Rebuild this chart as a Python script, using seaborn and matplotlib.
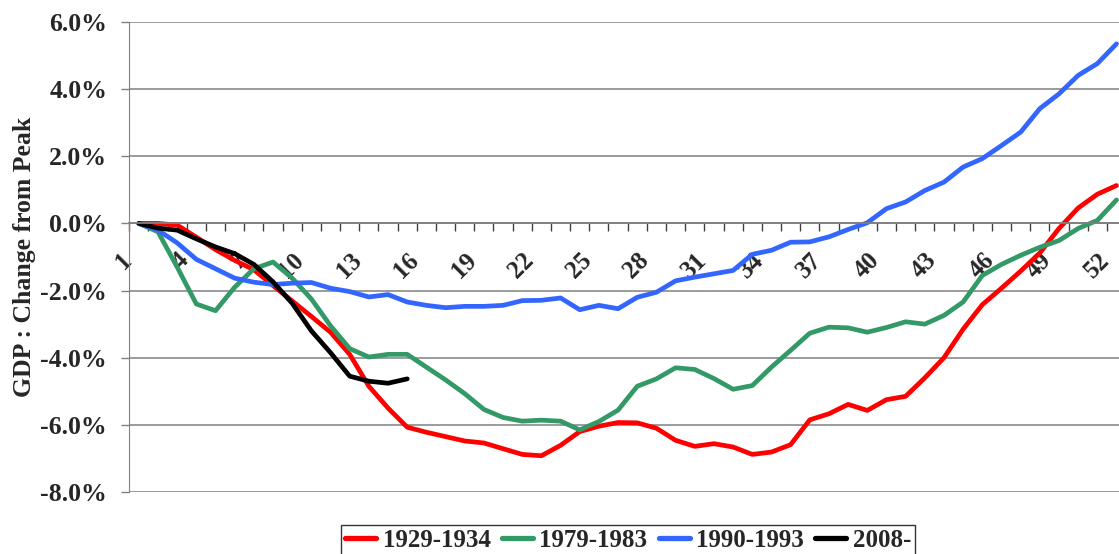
import numpy as np
import pandas as pd
import seaborn as sns
import matplotlib.pyplot as plt
import matplotlib.transforms as mtransforms
from matplotlib.ticker import FixedLocator, FuncFormatter

# quarters since the peak
periods = list(range(1, 53))

gdp_1929 = [0.0, 0.0, -0.05, -0.41, -0.78, -1.10, -1.38, -1.85, -2.31, -2.77,
            -3.24, -3.9, -4.85, -5.5, -6.07, -6.22, -6.35, -6.48, -6.54, -6.71,
            -6.88, -6.92, -6.61, -6.2, -6.04, -5.93, -5.94, -6.1, -6.46, -6.64,
            -6.56, -6.66, -6.88, -6.81, -6.59, -5.85, -5.67, -5.39, -5.57, -5.25,
            -5.15, -4.6, -4.0, -3.15, -2.42, -1.93, -1.42, -0.88, -0.15, 0.46,
            0.87, 1.13]
gdp_1979 = [0.0, -0.25, -1.3, -2.4, -2.6, -1.9, -1.35, -1.15, -1.63, -2.25,
            -3.05, -3.73, -3.98, -3.9, -3.9, -4.28, -4.66, -5.07, -5.54, -5.78,
            -5.89, -5.86, -5.89, -6.15, -5.9, -5.56, -4.85, -4.63, -4.3, -4.35,
            -4.62, -4.94, -4.83, -4.28, -3.78, -3.27, -3.09, -3.11, -3.24, -3.1,
            -2.93, -3.0, -2.74, -2.34, -1.55, -1.22, -0.95, -0.71, -0.51, -0.15,
            0.09, 0.7]
gdp_1990 = [0.0, -0.2, -0.58, -1.07, -1.35, -1.63, -1.75, -1.82, -1.78, -1.76,
            -1.93, -2.03, -2.19, -2.12, -2.34, -2.44, -2.51, -2.47, -2.47, -2.44,
            -2.3, -2.29, -2.22, -2.57, -2.44, -2.54, -2.2, -2.05, -1.71, -1.6,
            -1.5, -1.4, -0.92, -0.8, -0.56, -0.55, -0.4, -0.18, 0.02, 0.44,
            0.64, 0.98, 1.23, 1.68, 1.93, 2.32, 2.72, 3.42, 3.86, 4.41,
            4.76, 5.35]
gdp_2008 = [0.0, -0.14, -0.2, -0.46, -0.7, -0.9, -1.22, -1.74, -2.38, -3.2,
            -3.85, -4.55, -4.7, -4.76, -4.63]

series_names = ['1929-1934', '1979-1983', '1990-1993', '2008-']
series_values = [gdp_1929, gdp_1979, gdp_1990, gdp_2008]
series_colors = ['#FF0000', '#339966', '#3366FF', '#000000']

y_ticks = [-8, -6, -4, -2, 0, 2, 4, 6]
x_label_ticks = list(range(1, 53, 3))

frames = []
for name, vals in zip(series_names, series_values):
    frames.append(pd.DataFrame({'period': periods[:len(vals)], 'change': vals, 'series': name}))
df = pd.concat(frames, ignore_index=True)

sns.set_style('white')
plt.rcParams['font.family'] = ['Liberation Serif', 'DejaVu Serif']
plt.rcParams['font.weight'] = 'bold'

fig = plt.figure(figsize=(11.19, 5.54), dpi=100)
ax = fig.add_axes([0.1155, 0.1119, 0.8845, 0.8484])

sns.lineplot(data=df, x='period', y='change', hue='series', hue_order=series_names,
             palette=dict(zip(series_names, series_colors)), lw=3.4, ax=ax, sort=False)

ax.set_xlim(0.5, 52.13)
ax.set_ylim(-8, 6)

grid_col = '#808080'
ax.set_yticks(y_ticks)
ax.yaxis.set_major_formatter(FuncFormatter(lambda v, p: '{:.1f}%'.format(v)))
ax.yaxis.grid(True, color=grid_col, lw=1.1)
ax.xaxis.grid(False)
for s in ['top', 'right']:
    ax.spines[s].set_visible(False)
ax.spines['left'].set_color(grid_col)
ax.spines['bottom'].set_color(grid_col)
ax.spines['bottom'].set_linewidth(1.3)
ax.spines['bottom'].set_position(('data', 0))

ax.tick_params(axis='y', direction='out', length=6, width=1, color=grid_col,
               pad=10, labelsize=18.5, left=True)

# category axis: tick marks between categories, labels every 3rd
ax.xaxis.set_major_locator(FixedLocator(x_label_ticks))
ax.xaxis.set_minor_locator(FixedLocator(np.arange(0.5, 53, 1)))
ax.set_xticklabels([str(t) for t in x_label_ticks])
ax.tick_params(axis='x', which='major', length=0, pad=24, labelsize=18)
ax.tick_params(axis='x', which='minor', direction='out', length=6, width=1,
               color='#404040', bottom=True)
offset = mtransforms.ScaledTranslation(-0.11, 0, fig.dpi_scale_trans)
for lab in ax.get_xticklabels():
    lab.set_rotation(45)
    lab.set_ha('right')
    lab.set_va('center')
    lab.set_rotation_mode('anchor')
    lab.set_transform(lab.get_transform() + offset)

ax.set_xlabel('')
ax.set_ylabel('GDP : Change from Peak', fontsize=18.5, fontweight='bold')
ax.yaxis.set_label_coords(-0.0943, 0.5)

handles, labels = ax.get_legend_handles_labels()
ax.get_legend().remove()
leg = fig.legend(handles, labels, loc='upper center', bbox_to_anchor=(628 / 1119, 1 - 525 / 554),
                 ncol=4, frameon=True, fancybox=False, edgecolor='black',
                 prop={'family': 'Liberation Serif', 'weight': 'bold', 'size': 18},
                 handlelength=1.25, handletextpad=0.25, columnspacing=0.45,
                 borderpad=0.15, borderaxespad=0)
leg.get_frame().set_linewidth(1)
for h in leg.legend_handles:
    h.set_linewidth(3.8)

fig.savefig('out.png', dpi=100)
